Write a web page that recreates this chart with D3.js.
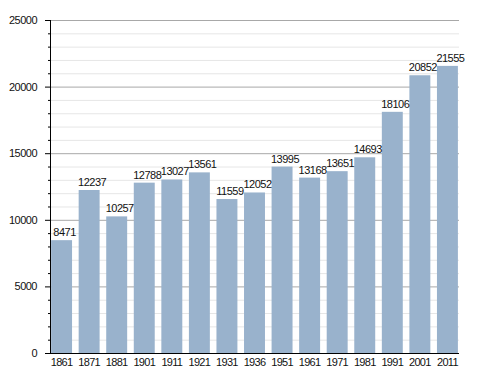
<!DOCTYPE html>
<html>
<head>
<meta charset="utf-8">
<script src="https://cdn.jsdelivr.net/npm/d3@7"></script>
<style>
  body { margin: 0; background: #fff; }
  text { font-family: "Liberation Sans", Arial, sans-serif; font-size: 11px; fill: #111; letter-spacing: -0.5px; }
</style>
</head>
<body>
<div id="chart"></div>
<script>
const years = ['1861','1871','1881','1901','1911','1921','1931','1936','1951','1961','1971','1981','1991','2001','2011'];
const population = [8471,12237,10257,12788,13027,13561,11559,12052,13995,13168,13651,14693,18106,20852,21555];
const majorTicks = [0,5000,10000,15000,20000,25000];

const width = 488, height = 373;
const plotLeft = 50, plotRight = 459, plotTop = 20, plotBottom = 353;

const svg = d3.select('#chart').append('svg')
  .attr('width', width)
  .attr('height', height);

const x = d3.scaleBand()
  .domain(years)
  .range([plotLeft, plotRight])
  .paddingInner(0.24)
  .paddingOuter(0.04);

const y = d3.scaleLinear()
  .domain([0, 25000])
  .range([plotBottom, plotTop]);

// minor grid every 1000
const minor = d3.range(1000, 25000, 1000).filter(v => v % 5000 !== 0);
svg.append('g').selectAll('line')
  .data(minor)
  .enter().append('line')
    .attr('x1', plotLeft).attr('x2', plotRight)
    .attr('y1', d => y(d) + 0.5).attr('y2', d => y(d) + 0.5)
    .style('stroke', '#e6e6e6');

// major grid
svg.append('g').selectAll('line')
  .data(majorTicks.filter(v => v > 0))
  .enter().append('line')
    .attr('x1', plotLeft).attr('x2', plotRight)
    .attr('y1', d => y(d) + 0.5).attr('y2', d => y(d) + 0.5)
    .style('stroke', '#a8a8a8');

// bars
svg.append('g').selectAll('rect')
  .data(population)
  .enter().append('rect')
    .attr('x', (d, i) => x(years[i]))
    .attr('y', d => y(d))
    .attr('width', x.bandwidth())
    .attr('height', d => y(0) - y(d))
    .style('fill', '#99b2cc');

// value labels (sit a little right of the bar centre, as in the source)
svg.append('g').selectAll('text')
  .data(population)
  .enter().append('text')
    .attr('x', (d, i) => x(years[i]) + x.bandwidth() / 2 + 3)
    .attr('y', d => y(d) - 4)
    .attr('text-anchor', 'middle')
    .text(d => d);

// y axis
const yAxis = svg.append('g');
yAxis.append('line')
  .attr('x1', plotLeft + 0.5).attr('x2', plotLeft + 0.5)
  .attr('y1', plotTop).attr('y2', plotBottom)
  .style('stroke', '#000');
yAxis.selectAll('.minor')
  .data(minor)
  .enter().append('line')
    .attr('class', 'minor')
    .attr('x1', plotLeft - 2).attr('x2', plotLeft)
    .attr('y1', d => y(d) + 0.5).attr('y2', d => y(d) + 0.5)
    .style('stroke', '#000');
yAxis.selectAll('.major')
  .data(majorTicks)
  .enter().append('line')
    .attr('class', 'major')
    .attr('x1', plotLeft - 5).attr('x2', plotLeft)
    .attr('y1', d => y(d) + 0.5).attr('y2', d => y(d) + 0.5)
    .style('stroke', '#000');
yAxis.selectAll('text')
  .data(majorTicks)
  .enter().append('text')
    .attr('x', 37)
    .attr('y', d => y(d) + 4)
    .attr('text-anchor', 'end')
    .text(d => d);

// x axis
svg.append('line')
  .attr('x1', plotLeft).attr('x2', plotRight)
  .attr('y1', plotBottom + 0.5).attr('y2', plotBottom + 0.5)
  .style('stroke', '#000');
svg.append('g').selectAll('text')
  .data(years)
  .enter().append('text')
    .attr('x', d => x(d) + x.bandwidth() / 2)
    .attr('y', 366)
    .attr('text-anchor', 'middle')
    .style('letter-spacing', '-0.7px')
    .text(d => d);
</script>
</body>
</html>
